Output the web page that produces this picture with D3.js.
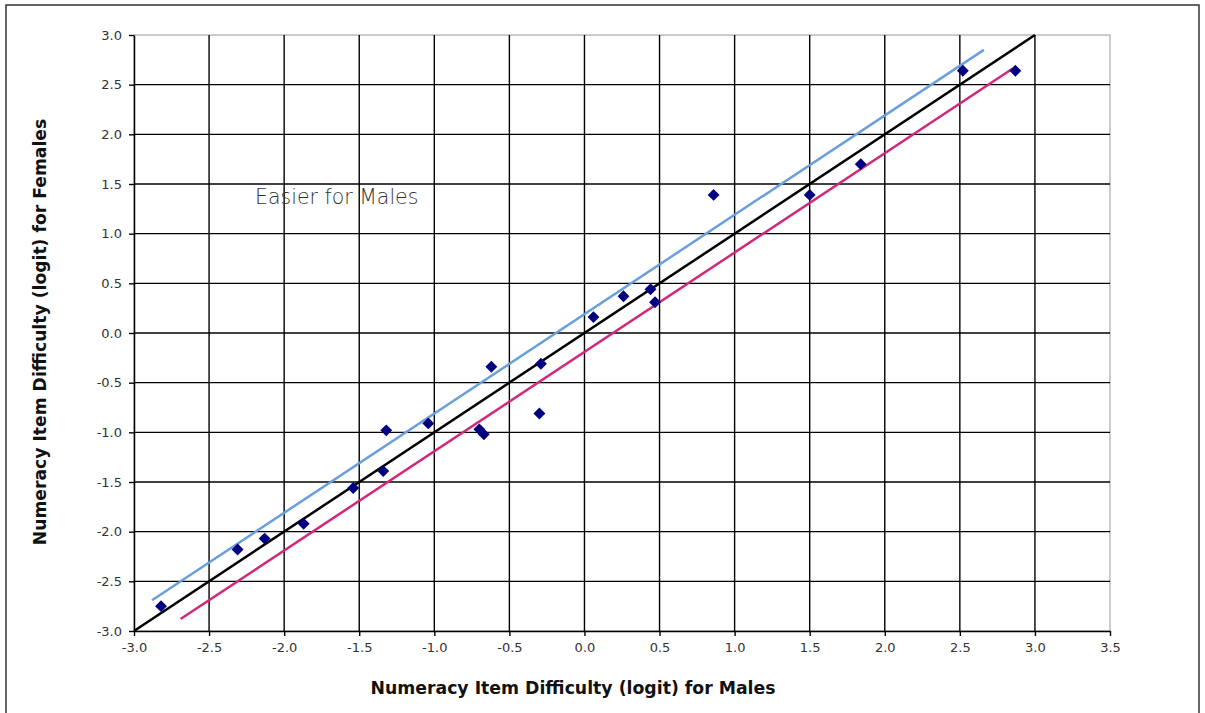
<!DOCTYPE html>
<html>
<head>
<meta charset="utf-8">
<script src="https://cdn.jsdelivr.net/npm/d3@7"></script>
<style>
  body { margin: 0; background: #fff; }
  svg text { font-family: "DejaVu Sans", "Noto Sans", sans-serif; }
</style>
</head>
<body>
<div id="chart"></div>
<script>
// Item difficulties (logit): males on x, females on y
const maleDiff = [-2.82, -2.31, -2.13, -1.87, -1.54, -1.34, -1.32, -1.04, -0.70, -0.67,
                  -0.62, -0.29, -0.30, 0.06, 0.26, 0.44, 0.47, 0.86, 1.50, 1.84, 2.52, 2.87];
const femaleDiff = [-2.75, -2.18, -2.07, -1.92, -1.56, -1.39, -0.98, -0.91, -0.97, -1.02,
                    -0.34, -0.31, -0.81, 0.16, 0.37, 0.44, 0.31, 1.39, 1.39, 1.70, 2.64, 2.64];

// Reference lines (endpoints)
const identityLine = [[-3, -3], [3, 3]];
const upperLine = [[-2.88, -2.69], [2.66, 2.85]];
const lowerLine = [[-2.69, -2.88], [2.85, 2.66]];

const xTicks = [-3.0, -2.5, -2.0, -1.5, -1.0, -0.5, 0.0, 0.5, 1.0, 1.5, 2.0, 2.5, 3.0, 3.5];
const yTicks = [-3.0, -2.5, -2.0, -1.5, -1.0, -0.5, 0.0, 0.5, 1.0, 1.5, 2.0, 2.5, 3.0];

const W = 1205, H = 713;
const margin = { top: 35, right: 95, bottom: 82, left: 134 };
const width = W - margin.left - margin.right;
const height = H - margin.top - margin.bottom;

const root = d3.select("#chart").append("svg")
  .attr("width", W)
  .attr("height", H);

// Outer frame
root.append("rect")
  .attr("x", 6).attr("y", 5)
  .attr("width", 1193).attr("height", 720)
  .attr("fill", "none")
  .attr("stroke", "#333")
  .attr("stroke-width", 1.5);

const svg = root.append("g")
  .attr("transform", `translate(${margin.left},${margin.top})`);

const x = d3.scaleLinear().domain([-3, 3.5]).range([0, width]);
const y = d3.scaleLinear().domain([-3, 3]).range([height, 0]);

// Plot border (top/right are grey)
svg.append("rect")
  .attr("x", 0).attr("y", 0)
  .attr("width", width).attr("height", height)
  .attr("fill", "none")
  .attr("stroke", "#999")
  .attr("stroke-width", 1);

// Gridlines
svg.append("g")
  .selectAll("line")
  .data(xTicks.filter(d => d > -3 && d < 3.5))
  .join("line")
  .attr("x1", d => x(d)).attr("x2", d => x(d))
  .attr("y1", 0).attr("y2", height)
  .attr("stroke", "#000")
  .attr("stroke-width", 1.4);

svg.append("g")
  .selectAll("line")
  .data(yTicks.filter(d => d > -3 && d < 3))
  .join("line")
  .attr("x1", 0).attr("x2", width)
  .attr("y1", d => y(d)).attr("y2", d => y(d))
  .attr("stroke", "#000")
  .attr("stroke-width", 1.4);

// Axes
const xAxis = svg.append("g")
  .attr("transform", `translate(0,${height})`)
  .call(d3.axisBottom(x).tickValues(xTicks).tickFormat(d3.format(".1f")).tickSize(5).tickSizeOuter(0).tickPadding(7));

const yAxis = svg.append("g")
  .call(d3.axisLeft(y).tickValues(yTicks).tickFormat(d3.format(".1f")).tickSize(5).tickSizeOuter(0).tickPadding(7));

[xAxis, yAxis].forEach(a => {
  a.select(".domain").attr("stroke", "#000").attr("stroke-width", 1.5);
  a.selectAll(".tick line").attr("stroke", "#000").attr("stroke-width", 1.4);
  a.selectAll(".tick text")
    .attr("fill", "#333")
    .style("font-size", "13px")
    .text(d => d3.format(".1f")(d).replace("−", "-"));
});

// Reference lines
const line = d3.line().x(d => x(d[0])).y(d => y(d[1]));

svg.append("path")
  .datum(upperLine)
  .attr("d", line)
  .attr("fill", "none")
  .attr("stroke", "#6a9fdc")
  .attr("stroke-width", 2.5);

svg.append("path")
  .datum(lowerLine)
  .attr("d", line)
  .attr("fill", "none")
  .attr("stroke", "#d0287a")
  .attr("stroke-width", 2.5);

svg.append("path")
  .datum(identityLine)
  .attr("d", line)
  .attr("fill", "none")
  .attr("stroke", "#000")
  .attr("stroke-width", 2.5);

// Diamond markers
const diamond = d3.symbol().type(d3.symbolDiamond2).size(90);
svg.append("g")
  .selectAll("path")
  .data(maleDiff.map((m, i) => [m, femaleDiff[i]]))
  .join("path")
  .attr("d", diamond)
  .attr("transform", d => `translate(${x(d[0])},${y(d[1])})`)
  .attr("fill", "#000080");

// Annotation
svg.append("text")
  .attr("x", x(-1.65))
  .attr("y", y(1.3))
  .attr("text-anchor", "middle")
  .style("font-size", "20.5px")
  .style("font-weight", "300")
  .style("font-family", "'DejaVu Sans', sans-serif")
  .attr("fill", "#333")
  .text("Easier for Males");

// Axis titles
root.append("text")
  .attr("x", 573)
  .attr("y", 694)
  .attr("text-anchor", "middle")
  .style("font-size", "17.3px")
  .style("font-weight", "bold")
  .attr("fill", "#111")
  .text("Numeracy Item Difficulty (logit) for Males");

root.append("text")
  .attr("transform", "translate(46,332) rotate(-90)")
  .attr("text-anchor", "middle")
  .style("font-size", "17.2px")
  .style("font-weight", "bold")
  .attr("fill", "#111")
  .text("Numeracy Item Difficulty (logit) for Females");
</script>
</body>
</html>
